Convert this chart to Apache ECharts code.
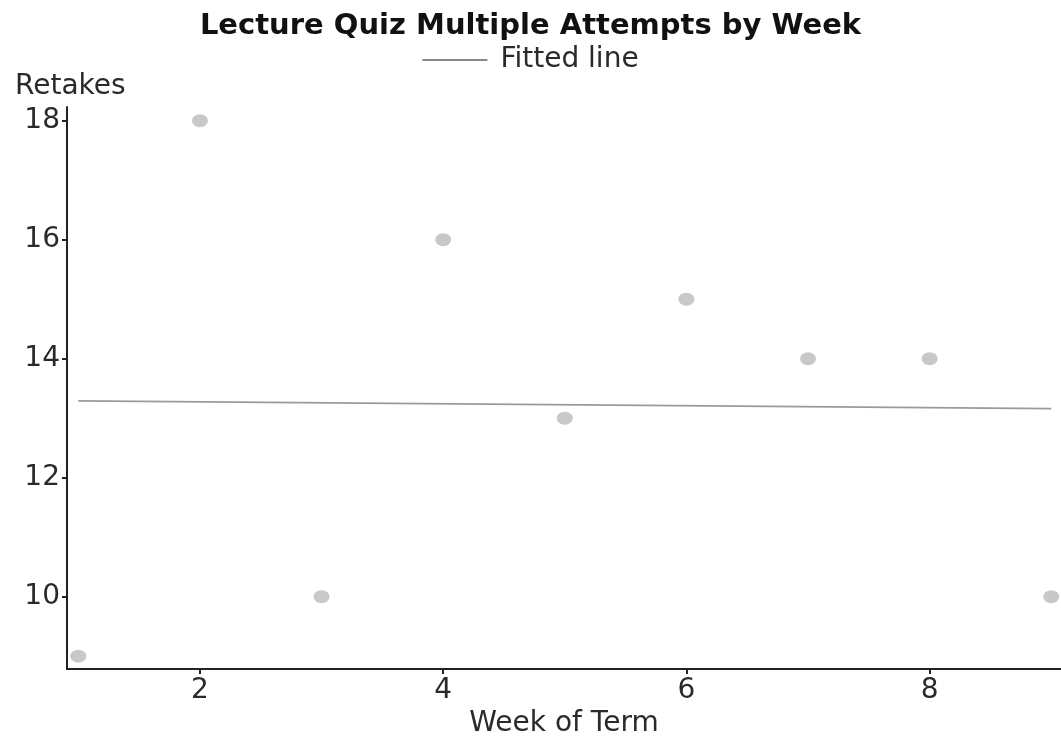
<!DOCTYPE html>
<html>
<head>
<meta charset="utf-8">
<script src="https://cdn.jsdelivr.net/npm/echarts@6/dist/echarts.min.js"></script>
<style>
  html, body { margin: 0; padding: 0; background: #fff; }
  #chart { width: 1061px; height: 738px; }
</style>
</head>
<body>
<div id="chart"></div>
<script>
  // week numbers and retakes per week
  var weeks = [1, 2, 3, 4, 5, 6, 7, 8, 9]
  var retakes = [9, 18, 10, 16, 13, 15, 14, 14, 10]
  // fitted line end points
  var fitX = [1, 9]
  var fitY = [13.29, 13.16]
  // tick labels
  var xTicks = [2, 4, 6, 8]
  var yTicks = [10, 12, 14, 16, 18]

  var font = 'DejaVu Sans'
  var textColor = '#2a2a2a'

  var option = {
    animation: false,
    backgroundColor: '#fff',
    title: {
      text: 'Lecture Quiz Multiple Attempts by Week',
      left: 'center',
      top: 7,
      textStyle: {fontFamily: font, fontSize: 29, fontWeight: 'bold', color: '#111'}
    },
    legend: {
      top: 41,
      left: 'center',
      itemWidth: 65,
      itemHeight: 2,
      data: [{name: 'Fitted line', icon: 'rect'}],
      textStyle: {fontFamily: font, fontSize: 28, color: textColor, padding: [0, 0, 0, 8]}
    },
    grid: {left: 67, right: 0, top: 107, bottom: 69, containLabel: false, outerBoundsMode: 'none'},
    xAxis: {
      type: 'value',
      min: 0.907,
      max: 9.08,
      name: 'Week of Term',
      nameLocation: 'middle',
      nameGap: 40,
      nameTextStyle: {fontFamily: font, fontSize: 28, color: textColor},
      axisLine: {show: true, lineStyle: {color: '#222', width: 2}},
      axisTick: {show: true, length: 5, customValues: xTicks, lineStyle: {color: '#222', width: 2}},
      axisLabel: {customValues: xTicks, fontFamily: font, fontSize: 28, color: textColor, margin: 8},
      splitLine: {show: false}
    },
    yAxis: {
      type: 'value',
      min: 8.785,
      max: 18.23,
      name: 'Retakes',
      nameLocation: 'end',
      nameGap: 6,
      nameTextStyle: {fontFamily: font, fontSize: 28, color: textColor, align: 'left', padding: [0, 0, 0, -52]},
      axisLine: {show: true, lineStyle: {color: '#222', width: 2}},
      axisTick: {show: true, length: 5, customValues: yTicks, lineStyle: {color: '#222', width: 2}},
      axisLabel: {customValues: yTicks, fontFamily: font, fontSize: 28, color: textColor, margin: 7},
      splitLine: {show: false}
    },
    series: [
      {
        name: 'Retakes',
        type: 'scatter',
        symbolSize: [16, 13],
        itemStyle: {color: '#c8c8c8', opacity: 1},
        data: weeks.map(function (w, i) {
          return [w, retakes[i]]
        })
      },
      {
        name: 'Fitted line',
        type: 'line',
        showSymbol: false,
        lineStyle: {color: '#9a9a9a', width: 1.8},
        itemStyle: {color: '#8a8a8a'},
        data: fitX.map(function (x, i) {
          return [x, fitY[i]]
        })
      }
    ]
  }

  echarts.init(document.getElementById('chart')).setOption(option)
</script>
</body>
</html>
